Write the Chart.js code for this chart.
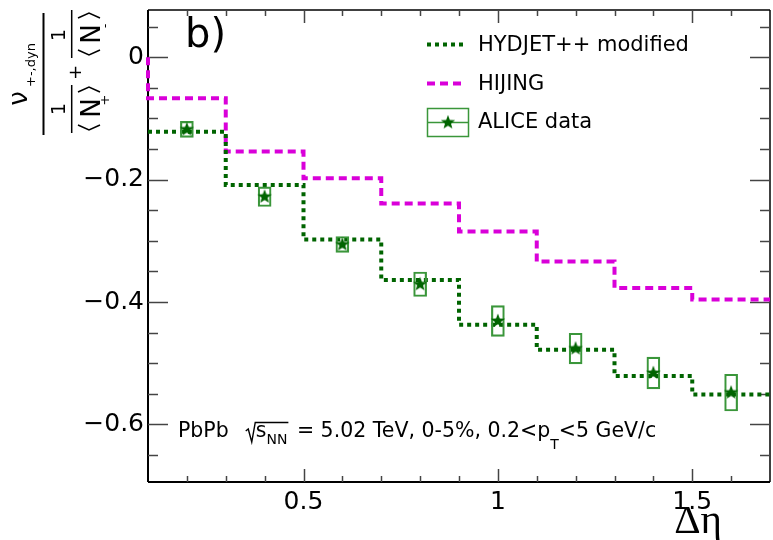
<!DOCTYPE html>
<html>
<head>
<meta charset="utf-8">
<script src="https://cdn.jsdelivr.net/npm/chart.js@4/dist/chart.umd.min.js"></script>
<style>
  html, body { margin: 0; padding: 0; background: #fff; }
  canvas { display: block; }
</style>
</head>
<body>
<canvas id="dynChart" width="773" height="540"></canvas>
<script>
// Δη bins and model histograms
const binEdges = [0.1, 0.3, 0.5, 0.7, 0.9, 1.1, 1.3, 1.5, 1.7];
const hydjetValues = [-0.122, -0.209, -0.298, -0.364, -0.437, -0.478, -0.521, -0.551];
const hijingValues = [-0.067, -0.154, -0.198, -0.239, -0.285, -0.334, -0.377, -0.396];

// ALICE points with systematic boxes
const aliceEta = [0.2, 0.4, 0.6, 0.8, 1.0, 1.2, 1.4, 1.6];
const aliceValues = [-0.118, -0.228, -0.306, -0.371, -0.431, -0.476, -0.516, -0.548];
const aliceSys = [0.013, 0.016, 0.013, 0.020, 0.025, 0.025, 0.026, 0.030];

const xTicks = [0.5, 1, 1.5];
const yTicks = [0, -0.2, -0.4, -0.6];

const GREEN = "#006400";
const BOX_GREEN = "#3a963a";
const MAGENTA = "#d900d9";
const FONT = "DejaVu Sans";

// histogram outline for a stepped line; optionally rises from 0 at the first edge
function histPoints(edges, values, fromZero){
    const pts = [{x: edges[0], y: fromZero ? 0 : values[0]}];
    values.forEach((v, i) => pts.push({x: edges[i + 1], y: v}));
    return pts;
}

// filled five point star used as marker
function makeStar(size, color){
    const c = document.createElement("canvas");
    c.width = size;
    c.height = size;
    const g = c.getContext("2d");
    const r = size / 2 - 0.5, ri = r * 0.42, cx = size / 2, cy = size / 2;
    g.beginPath();
    for(let i = 0; i < 10; i++){
        const rad = i % 2 === 0 ? r : ri;
        const a = -Math.PI / 2 + i * Math.PI / 5;
        g.lineTo(cx + rad * Math.cos(a), cy + rad * Math.sin(a));
    }
    g.closePath();
    g.fillStyle = color;
    g.fill();
    return c;
}
const starImg = makeStar(16, GREEN);

function line(ctx, x1, y1, x2, y2){
    ctx.beginPath();
    ctx.moveTo(x1, y1);
    ctx.lineTo(x2, y2);
    ctx.stroke();
}

// frame with inward ticks on all four sides
const framePlugin = {
    id: "frame",
    beforeDatasetsDraw(chart){
        const {ctx, chartArea: a, scales: {x, y}} = chart;
        ctx.save();
        ctx.strokeStyle = "#000";
        ctx.lineWidth = 2;
        line(ctx, a.left, a.top, a.left, a.bottom);
        line(ctx, a.left, a.bottom, a.right, a.bottom);
        ctx.lineWidth = 1.5;
        line(ctx, a.left, a.top, a.right, a.top);
        line(ctx, a.right, a.top, a.right, a.bottom);

        ctx.strokeStyle = "#444";
        ctx.lineWidth = 1.5;
        for(let i = 2; i <= 16; i++){
            const v = i / 10;
            const px = Math.round(x.getPixelForValue(v)) + 0.5;
            const len = xTicks.some(t => Math.abs(t - v) < 1e-6) ? 13 : 6;
            line(ctx, px, a.bottom, px, a.bottom - len);
            line(ctx, px, a.top, px, a.top + len);
        }
        for(let i = -13; i <= 1; i++){
            const v = i * 0.05;
            const py = Math.round(y.getPixelForValue(v)) + 0.5;
            const len = yTicks.some(t => Math.abs(t - v) < 1e-6) ? 20 : 10;
            line(ctx, a.left, py, a.left + len, py);
            line(ctx, a.right, py, a.right - len, py);
        }
        ctx.restore();
    }
};

// rotated y title: nu_{+-,dyn} / (1/<N+> + 1/<N->)
function drawYTitle(ctx){
    ctx.save();
    ctx.rotate(-Math.PI / 2);
    ctx.fillStyle = "#000";
    ctx.strokeStyle = "#000";
    ctx.textBaseline = "alphabetic";

    ctx.lineWidth = 2;
    line(ctx, -13, 43.5, -135, 43.5);

    ctx.textAlign = "center";
    ctx.font = `26px "${FONT}"`;
    ctx.fillText("ν", -98.5, 27);
    ctx.textAlign = "left";
    ctx.font = `13px "${FONT}"`;
    ctx.fillText("+-,dyn", -87, 35);

    ctx.lineWidth = 1.5;
    const terms = [
        {c: -109, sub: "+", barFrom: -85, barTo: -133, open: -130, close: -87},
        {c: -35, sub: "-", barFrom: -10, barTo: -58, open: -55, close: -13}
    ];
    terms.forEach(t => {
        line(ctx, t.barFrom, 71.7, t.barTo, 71.7);
        ctx.textAlign = "center";
        ctx.font = `19px "${FONT}"`;
        ctx.fillText("1", t.c, 65);
        ctx.font = `26px "${FONT}"`;
        ctx.fillText("N", t.c + 1, 100);
        ctx.font = `13px "${FONT}"`;
        ctx.fillText(t.sub, t.c + 9, 109);
        ctx.beginPath();
        ctx.moveTo(t.open + 5, 78);
        ctx.lineTo(t.open, 89);
        ctx.lineTo(t.open + 5, 100);
        ctx.stroke();
        ctx.beginPath();
        ctx.moveTo(t.close - 5, 78);
        ctx.lineTo(t.close, 89);
        ctx.lineTo(t.close - 5, 100);
        ctx.stroke();
    });
    ctx.textAlign = "center";
    ctx.font = `18px "${FONT}"`;
    ctx.fillText("+", -72.5, 80.5);
    ctx.restore();
}

function drawLegend(ctx){
    ctx.save();
    ctx.lineWidth = 4;
    ctx.strokeStyle = GREEN;
    ctx.setLineDash([4, 4]);
    line(ctx, 427, 44.5, 466, 44.5);
    ctx.strokeStyle = MAGENTA;
    ctx.setLineDash([8, 5]);
    line(ctx, 427, 83.5, 466, 83.5);
    ctx.setLineDash([]);
    ctx.lineWidth = 1.5;
    ctx.strokeStyle = BOX_GREEN;
    ctx.strokeRect(427.5, 108.5, 41, 28);
    line(ctx, 427.5, 122.5, 468.5, 122.5);
    ctx.drawImage(starImg, 448 - 8, 122.5 - 8);

    ctx.fillStyle = "#000";
    ctx.font = `21px "${FONT}"`;
    ctx.textAlign = "left";
    ctx.textBaseline = "middle";
    ctx.fillText("HYDJET++ modified", 478, 46);
    ctx.fillText("HIJING", 478, 85);
    ctx.fillText("ALICE data", 478, 123);
    ctx.restore();
}

// PbPb sqrt(s_NN) = 5.02 TeV, 0-5%, 0.2<p_T<5 GeV/c
function drawCollisionLabel(ctx){
    ctx.save();
    ctx.fillStyle = "#000";
    ctx.strokeStyle = "#000";
    ctx.textAlign = "left";
    ctx.textBaseline = "alphabetic";
    const big = `20.5px "${FONT}"`, small = `14px "${FONT}"`;
    const base = 437, subBase = 444;
    let x = 178;
    ctx.font = big;
    ctx.fillText("PbPb", x, base);
    x += ctx.measureText("PbPb").width + 17;
    const rx = x;
    x += 10;
    ctx.fillText("s", x, base);
    x += ctx.measureText("s").width;
    ctx.font = small;
    ctx.fillText("NN", x, subBase);
    x += ctx.measureText("NN").width + 1;
    ctx.lineWidth = 1.4;
    ctx.beginPath();
    ctx.moveTo(rx, 431);
    ctx.lineTo(rx + 2.5, 429);
    ctx.lineTo(rx + 6, 442);
    ctx.lineTo(rx + 9.5, 422.5);
    ctx.lineTo(x, 422.5);
    ctx.stroke();
    x += 2;
    ctx.font = big;
    const mid = " = 5.02 TeV, 0-5%, 0.2<p";
    ctx.fillText(mid, x, base);
    x += ctx.measureText(mid).width;
    ctx.font = small;
    ctx.fillText("T", x, 449);
    x += ctx.measureText("T").width;
    ctx.font = big;
    ctx.fillText("<5 GeV/c", x, base);
    ctx.restore();
}

const textPlugin = {
    id: "texts",
    afterDraw(chart){
        const ctx = chart.ctx;
        drawYTitle(ctx);
        drawLegend(ctx);
        drawCollisionLabel(ctx);

        ctx.save();
        ctx.fillStyle = "#000";
        ctx.textBaseline = "alphabetic";
        ctx.font = `40px "${FONT}"`;
        ctx.textAlign = "left";
        ctx.fillText("b)", 185, 47);
        ctx.font = `41px "Liberation Serif"`;
        ctx.textAlign = "right";
        ctx.fillText("Δη", 722, 533);
        ctx.restore();
    }
};

const ctx = document.getElementById("dynChart").getContext("2d");

new Chart(ctx, {
    type: "line",
    data: {
        datasets: [
            {
                label: "ALICE data",
                type: "line",
                showLine: false,
                data: aliceEta.map((x, i) => ({x: x, y: aliceValues[i]})),
                pointStyle: starImg,
                pointRadius: 7,
                order: 0
            },
            {
                label: "ALICE sys",
                type: "bar",
                data: aliceEta.map((x, i) => ({x: x, y: [aliceValues[i] - aliceSys[i], aliceValues[i] + aliceSys[i]]})),
                backgroundColor: "rgba(0,0,0,0)",
                borderColor: BOX_GREEN,
                borderWidth: 1.5,
                borderSkipped: false,
                barThickness: 13,
                grouped: false,
                order: 1
            },
            {
                label: "HYDJET++ modified",
                type: "line",
                data: histPoints(binEdges, hydjetValues, false),
                stepped: "after",
                borderColor: GREEN,
                borderWidth: 4,
                borderDash: [4, 4],
                borderCapStyle: "butt",
                pointRadius: 0,
                fill: false,
                clip: 6,
                order: 2
            },
            {
                label: "HIJING",
                type: "line",
                data: histPoints(binEdges, hijingValues, true),
                stepped: "after",
                borderColor: MAGENTA,
                borderWidth: 4,
                borderDash: [8, 5],
                borderCapStyle: "butt",
                pointRadius: 0,
                fill: false,
                clip: 6,
                order: 3
            }
        ]
    },
    options: {
        responsive: false,
        animation: false,
        devicePixelRatio: 1,
        layout: {autoPadding: false, padding: {left: 0, right: 3, top: 10, bottom: 0}},
        plugins: {
            legend: {display: false},
            tooltip: {enabled: false}
        },
        scales: {
            x: {
                type: "linear",
                offset: false,
                min: binEdges[0],
                max: binEdges[binEdges.length - 1],
                grid: {display: false, drawTicks: false, offset: false},
                border: {display: false},
                afterFit: s => { s.height = 58; s.paddingLeft = 0; s.paddingRight = 0; },
                afterBuildTicks: s => { s.ticks = xTicks.map(v => ({value: v})); },
                ticks: {
                    color: "#000",
                    padding: 5,
                    maxRotation: 0,
                    autoSkip: false,
                    font: {family: FONT, size: 25},
                    callback: v => String(v)
                }
            },
            y: {
                type: "linear",
                min: -0.694,
                max: 0.077,
                grid: {display: false, drawTicks: false},
                border: {display: false},
                afterFit: s => { s.width = 148; s.paddingTop = 0; s.paddingBottom = 0; },
                afterBuildTicks: s => { s.ticks = yTicks.map(v => ({value: v})); },
                ticks: {
                    color: "#000",
                    padding: 4,
                    autoSkip: false,
                    font: {family: FONT, size: 25},
                    callback: v => v === 0 ? "0" : "\u2212" + Math.abs(v).toFixed(1)
                }
            }
        }
    },
    plugins: [framePlugin, textPlugin]
});
</script>
</body>
</html>
